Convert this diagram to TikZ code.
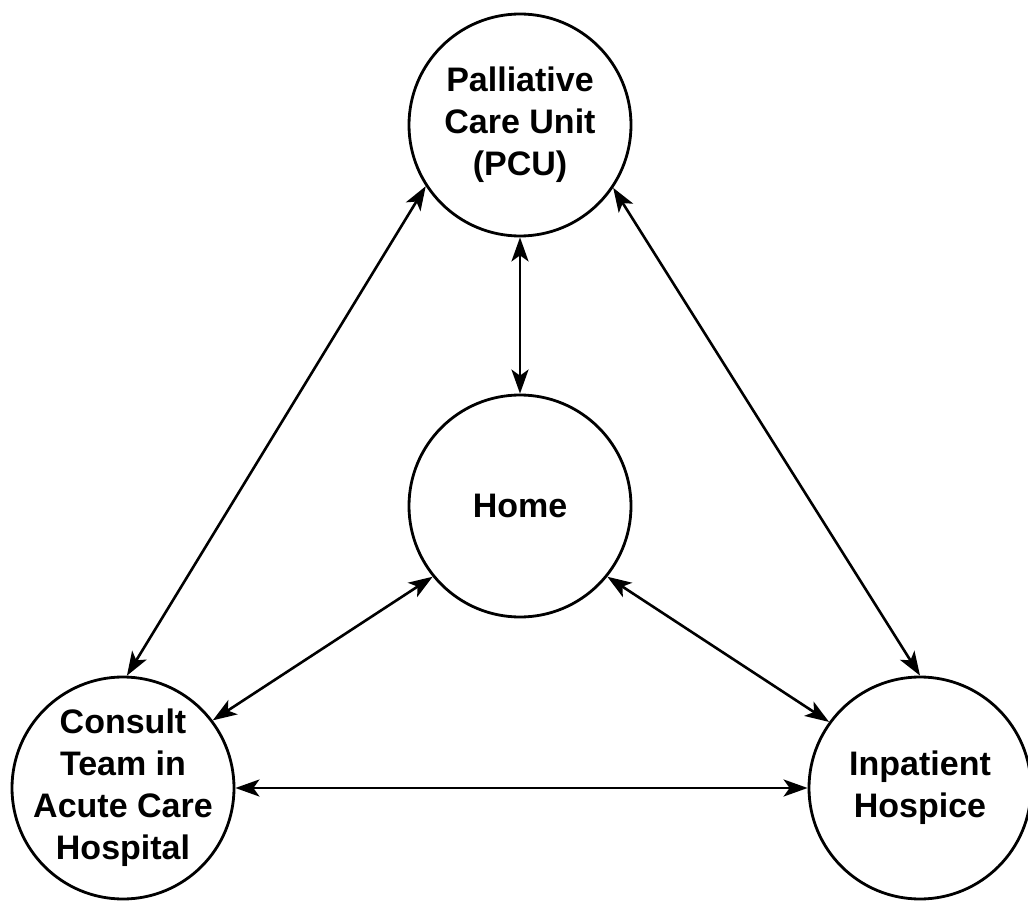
\documentclass[tikz,border=0pt]{standalone}
\usepackage{fontspec}
\setmainfont{Liberation Sans}
\usetikzlibrary{arrows.meta}
\begin{document}
\begin{tikzpicture}
[x=1pt,y=-1pt,%
  place/.style={shape=circle,draw,line width=2.8pt,minimum size=222pt,inner sep=-20pt,align=center,%
    font=\fontsize{34}{42}\selectfont\bfseries},%
  link/.style={{Stealth[length=24pt,width=17pt,inset=6pt]}-{Stealth[length=24pt,width=17pt,inset=6pt]},line width=2.6pt}]
\useasboundingbox (0,0) rectangle (1028,901);
\node[place] (pcu) at (520,125) {Palliative\\Care Unit\\(PCU)};
\node[place] (home) at (520,506) {Home};
\node[place] (consult) at (123,788) {Consult\\Team in\\Acute Care\\Hospital};
\node[place] (hospice) at (920,788) {Inpatient\\Hospice};
\draw[link] (pcu.south) -- (home.north);
\draw[link] (pcu.213) -- (consult.88);
\draw[link] (pcu.326) -- (hospice.north);
\draw[link] (home.219) -- (consult.37);
\draw[link] (home.321) -- (hospice.144);
\draw[link] (consult.east) -- (hospice.west);
\end{tikzpicture}
\end{document}
